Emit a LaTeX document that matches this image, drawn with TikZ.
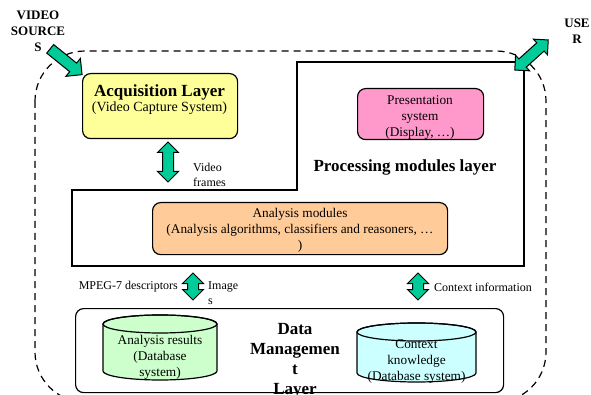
\documentclass[tikz,border=0pt]{standalone}
\usepackage{fontspec}
\setmainfont{Liberation Serif}
\usetikzlibrary{calc, positioning, shapes.arrows}

\tikzset{
    layerbox/.style={draw, line width=1.2pt, rounded corners=8pt, align=center, inner sep=0pt},
    flowarrow/.style={double arrow, draw, line width=1pt, fill=arrowColour, inner xsep=0pt, inner ysep=5pt, double arrow head extend=5pt},
    smalltext/.style={font=\fontsize{12}{15}\selectfont, align=left, inner sep=0pt},
    boxtext/.style={font=\fontsize{13.3}{16}\selectfont, align=center, inner sep=0pt},
    titletext/.style={font=\fontsize{17}{20}\selectfont\bfseries, align=center, inner sep=0pt}
}

% Database drum: centre x, top y, bottom y, half width
\newcommand{\dbdrum}[5]{%
    \filldraw[fill=#5, line width=1.2pt] (#1-#4,#2+9) -- (#1-#4,#3-9)
        arc[start angle=180, end angle=360, x radius=#4pt, y radius=9pt]
        -- (#1+#4,#2+9) arc[start angle=0, end angle=180, x radius=#4pt, y radius=9pt] -- cycle;
    \draw[line width=1.2pt] (#1,#2+9) ellipse[x radius=#4pt, y radius=9pt];
}

\begin{document}
\begin{tikzpicture}[x=1pt, y=-1pt]
    % Colours
    \definecolor{acqColour}{HTML}{FFFF99}
    \definecolor{presColour}{HTML}{FF99CC}
    \definecolor{anaColour}{HTML}{FFCC99}
    \definecolor{resColour}{HTML}{CCFFCC}
    \definecolor{ctxColour}{HTML}{CCFFFF}
    \definecolor{arrowColour}{HTML}{00CC99}

    % Fix the canvas
    \useasboundingbox (0,0) rectangle (591,395);

    % Outer dashed system boundary
    \draw[line width=1.2pt, dash pattern=on 7pt off 5pt, rounded corners=50pt] (35,51) rectangle (546,402);

    % Processing modules layer outline
    \coordinate (P1) at (72,266);
    \coordinate (P2) at (72,190);
    \coordinate (P3) at (297,190);
    \coordinate (P4) at (297,62);
    \coordinate (P5) at (524,62);
    \coordinate (P6) at (524,266);
    \draw[line width=1.2pt] (P1) -- (P2) -- (P3) -- (P4) -- (P5) -- (P6) -- cycle;
    \node (procTitle) [titletext] at (405,167) {Processing modules layer};

    % Acquisition layer
    \node (acq) [layerbox, fill=acqColour, minimum width=155pt, minimum height=65pt, anchor=north west] at (82,73) {};
    \node (acqTitle) [titletext] at (159.5,92) {Acquisition Layer};
    \node (acqSub) [font=\fontsize{14}{16}\selectfont, inner sep=0pt] at (159.5,108) {(Video Capture System)};

    % Presentation system
    \node (pres) [layerbox, fill=presColour, minimum width=126pt, minimum height=51pt, anchor=north west] at (357,88) {};
    \node (presText) [boxtext] at (420,118) {Presentation\\system\\(Display, \dots)};

    % Analysis modules
    \node (ana) [layerbox, fill=anaColour, minimum width=295pt, minimum height=52pt, anchor=north west] at (152,202) {};
    \node (anaText) [boxtext] at (300,230)
        {Analysis modules\\(Analysis algorithms, classifiers and reasoners, \dots\\)};

    % Data management layer
    \node (dataTitle) [titletext] at (295,361) {Data\\Managemen\\t\\Layer};
    \node (data) [layerbox, minimum width=428pt, minimum height=84pt, anchor=north west] at (75,308) {};

    % Databases
    \dbdrum{160}{315}{380}{57}{resColour}
    \node (resText) [boxtext] at (160,357) {Analysis results\\(Database\\system)};
    \dbdrum{416.5}{323}{382}{59.5}{ctxColour}
    \node (ctxText) [boxtext] at (416.5,362) {Context\\knowledge\\(Database system)};

    % Flow arrows between layers
    \coordinate (vfTop) at (168,142);
    \coordinate (vfBot) at (168,182);
    \node (vfArrow) [flowarrow, rotate=90, minimum height=40pt] at ($(vfTop)!0.5!(vfBot)$) {};
    \node (vfLabel) [smalltext, anchor=west] at (193,175) {Video\\frames};

    \coordinate (mdTop) at (193,273);
    \coordinate (mdBot) at (193,300);
    \node (mdArrow) [flowarrow, rotate=90, minimum height=27pt] at ($(mdTop)!0.5!(mdBot)$) {};
    \node (mdLabel) [smalltext, anchor=east] at (178,287) {MPEG-7 descriptors};
    \node (imgLabel) [smalltext, anchor=north west] at (208,281) {Image\\s};

    \coordinate (ciTop) at (418,273);
    \coordinate (ciBot) at (418,300);
    \node (ciArrow) [flowarrow, rotate=90, minimum height=27pt] at ($(ciTop)!0.5!(ciBot)$) {};
    \node (ciLabel) [smalltext, anchor=west] at (434,287) {Context information};

    % Video source and user
    \node (srcLabel) [font=\fontsize{13}{16}\selectfont\bfseries, align=center, inner sep=0pt] at (38,31) {VIDEO\\SOURCE\\S};
    \coordinate (srcTail) at (48,47);
    \coordinate (srcTip) at (80,73);
    \node (srcArrow) [single arrow, draw, line width=1pt, fill=arrowColour, inner xsep=0pt, inner ysep=5pt, single arrow head extend=6pt, minimum height=41pt, rotate=-39] at ($(srcTail)!0.5!(srcTip)$) {};

    \node (userLabel) [font=\fontsize{13}{16}\selectfont\bfseries, align=center, inner sep=0pt] at (577,31) {USE\\R};
    \coordinate (userIn) at (515,70);
    \coordinate (userOut) at (548,40);
    \node (userArrow) [flowarrow, rotate=42, minimum height=45pt] at ($(userIn)!0.5!(userOut)$) {};
\end{tikzpicture}
\end{document}
